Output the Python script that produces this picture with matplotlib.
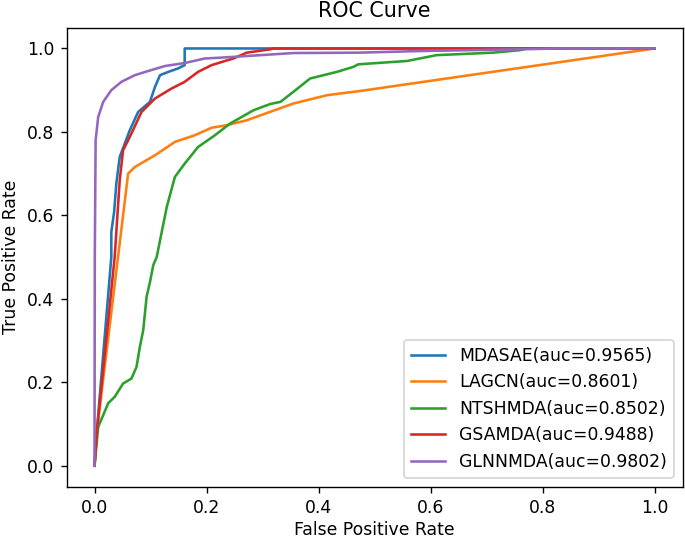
import matplotlib
matplotlib.use("Agg")
import matplotlib.pyplot as plt

# values
mdasae_fpr = [0, 0.004, 0.030, 0.030, 0.035, 0.039, 0.045, 0.054, 0.063, 0.078,
              0.099, 0.108, 0.117, 0.132, 0.149, 0.161, 0.161, 1.0]
mdasae_tpr = [0, 0.08, 0.50, 0.56, 0.608, 0.677, 0.74, 0.772, 0.804, 0.848,
              0.872, 0.908, 0.936, 0.944, 0.952, 0.96, 1.0, 1.0]

lagcn_fpr = [0, 0.004, 0.042, 0.060, 0.072, 0.108, 0.1435, 0.179, 0.209, 0.236,
             0.272, 0.355, 0.415, 0.474, 1.0]
lagcn_tpr = [0, 0.08, 0.50, 0.70, 0.716, 0.744, 0.776, 0.792, 0.81, 0.816,
             0.828, 0.868, 0.888, 0.898, 1.0]

ntshmda_fpr = [0, 0.0066, 0.0245, 0.036, 0.051, 0.066, 0.075, 0.081, 0.087, 0.093,
               0.099, 0.105, 0.111, 0.129, 0.1435, 0.161, 0.185, 0.215, 0.242, 0.284,
               0.314, 0.332, 0.355, 0.385, 0.433, 0.4625, 0.471, 0.558, 0.611, 0.7125,
               0.76, 0.772, 1.0]
ntshmda_tpr = [0, 0.093, 0.15, 0.165, 0.197, 0.209, 0.237, 0.285, 0.325, 0.405,
               0.44, 0.481, 0.50, 0.62, 0.692, 0.724, 0.764, 0.792, 0.82, 0.852,
               0.867, 0.872, 0.896, 0.928, 0.944, 0.956, 0.962, 0.97, 0.984, 0.99,
               0.996, 1.0, 1.0]

gsamda_fpr = [0, 0.004, 0.036, 0.045, 0.051, 0.063, 0.084, 0.108, 0.1375, 0.161,
              0.185, 0.209, 0.233, 0.248, 0.272, 0.314, 0.32, 1.0]
gsamda_tpr = [0, 0.08, 0.50, 0.684, 0.756, 0.788, 0.848, 0.880, 0.904, 0.92,
              0.944, 0.96, 0.97, 0.976, 0.99, 0.998, 1.0, 1.0]

glnnmda_fpr = [0, 0.0005, 0.002, 0.0066, 0.0155, 0.030, 0.048, 0.072, 0.096, 0.126,
               0.161, 0.197, 0.226, 0.355, 0.474, 0.587, 0.76, 0.83, 1.0]
glnnmda_tpr = [0, 0.5, 0.78, 0.836, 0.872, 0.90, 0.92, 0.936, 0.946, 0.958,
               0.965, 0.976, 0.978, 0.989, 0.99, 0.994, 0.998, 1.0, 1.0]

names = ["MDASAE", "LAGCN", "NTSHMDA", "GSAMDA", "GLNNMDA"]
aucs = [0.9565, 0.8601, 0.8502, 0.9488, 0.9802]
curves = [(mdasae_fpr, mdasae_tpr), (lagcn_fpr, lagcn_tpr), (ntshmda_fpr, ntshmda_tpr),
          (gsamda_fpr, gsamda_tpr), (glnnmda_fpr, glnnmda_tpr)]

dpi = 124
fig = plt.figure(figsize=(685 / dpi, 539 / dpi), dpi=dpi)
ax = fig.add_axes([0.0971, 0.0972, 0.8993, 0.8516])

for name, auc, (fpr, tpr) in zip(names, aucs, curves):
    ax.plot(fpr, tpr, label='%s(auc=%.4f)' % (name, auc))

ax.set_title('ROC Curve')
ax.set_xlabel('False Positive Rate', labelpad=2.5)
ax.set_ylabel('True Positive Rate')
ax.legend(loc='lower right')

fig.savefig('out.png', dpi=dpi)
